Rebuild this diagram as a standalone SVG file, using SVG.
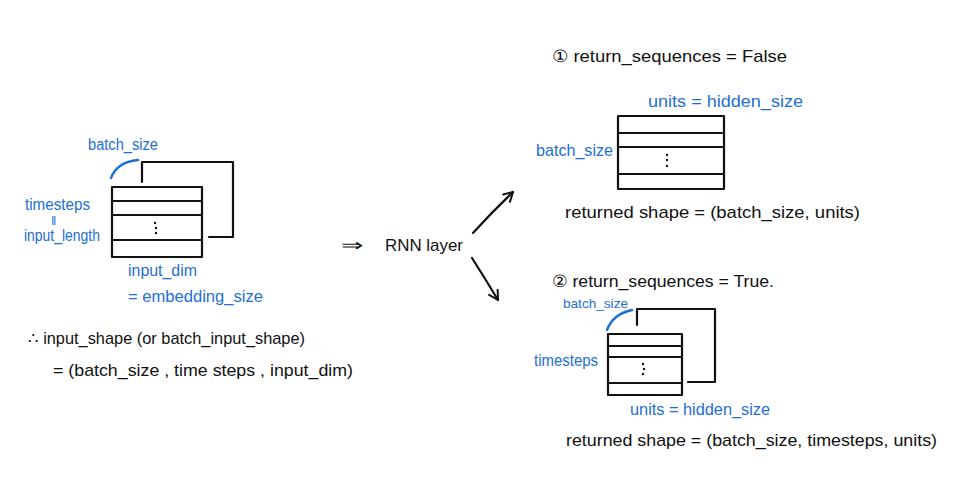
<svg xmlns="http://www.w3.org/2000/svg" width="960" height="480" viewBox="0 0 960 480">
<style>
text{font-family:"Liberation Sans",Arial,sans-serif;}
.k{fill:#111;font-size:17px;}
.b{fill:#1d6fd6;font-size:16px;}
.bs{fill:#1d6fd6;font-size:13px;}
.ln{fill:none;stroke:#111;stroke-width:2.2;stroke-linecap:round;stroke-linejoin:round;}
.arc{fill:none;stroke:#1d6fd6;stroke-width:2.4;stroke-linecap:round;}
.dot{fill:#111;}
</style>
<defs>
<marker id="ah" viewBox="0 0 12 12" refX="10" refY="6" markerWidth="12" markerHeight="12" markerUnits="userSpaceOnUse" orient="auto">
<path d="M1,1 L10,6 L1,11" fill="none" stroke="#111" stroke-width="2" stroke-linecap="round" stroke-linejoin="round"/>
</marker>
</defs>
<rect width="960" height="480" fill="#fff"/>

<g id="input-tensor">
<path class="ln" d="M142,182 L142,162 L233,162 L233,237 L209,237"/>
<rect class="ln" x="112" y="187" width="90" height="70"/>
<path class="ln" d="M112,201 L202,201 M112,215 L202,215 M112,240 L202,240"/>
<circle class="dot" cx="155" cy="223" r="1.2"/><circle class="dot" cx="156" cy="228" r="1.2"/><circle class="dot" cx="156" cy="233" r="1.2"/>
<path class="arc" d="M111,178 Q117,162 138,160"/>
<text class="b" x="88" y="150" textLength="70" lengthAdjust="spacingAndGlyphs">batch_size</text>
<text class="b" x="25" y="210" textLength="65" lengthAdjust="spacingAndGlyphs">timesteps</text>
<text class="bs" x="51" y="225" font-size="13">‖</text>
<text class="b" x="24" y="241" textLength="76" lengthAdjust="spacingAndGlyphs">input_length</text>
<text class="b" x="128" y="276" textLength="69" lengthAdjust="spacingAndGlyphs">input_dim</text>
<text class="b" x="128" y="302" textLength="135" lengthAdjust="spacingAndGlyphs">= embedding_size</text>
</g>

<g id="input-shape-note">
<text class="k" x="28" y="344" textLength="277" lengthAdjust="spacingAndGlyphs">∴ input_shape (or batch_input_shape)</text>
<text class="k" x="53" y="376" textLength="300" lengthAdjust="spacingAndGlyphs">= (batch_size , time steps , input_dim)</text>
</g>

<g id="rnn-layer">
<text class="k" x="341" y="251" font-size="24" textLength="22" lengthAdjust="spacingAndGlyphs">⇒</text>
<text class="k" x="385" y="251" textLength="78" lengthAdjust="spacingAndGlyphs">RNN layer</text>
</g>

<g id="connectors">
<path class="ln" d="M473,233 Q492,212 513,192" marker-end="url(#ah)"/>
<path class="ln" d="M472,258 Q486,280 498,300" marker-end="url(#ah)"/>
</g>

<g id="seq-false">
<text class="k" x="552" y="62" textLength="235" lengthAdjust="spacingAndGlyphs">① return_sequences = False</text>
<text class="b" x="648" y="107" textLength="155" lengthAdjust="spacingAndGlyphs">units = hidden_size</text>
<rect class="ln" x="618" y="116" width="106" height="73"/>
<path class="ln" d="M618,133 L722,133 M618,147 L724,147 M618,174 L724,174"/>
<circle class="dot" cx="667" cy="155" r="1.2"/><circle class="dot" cx="667" cy="160" r="1.2"/><circle class="dot" cx="667" cy="166" r="1.2"/>
<text class="b" x="536" y="156" textLength="77" lengthAdjust="spacingAndGlyphs">batch_size</text>
<text class="k" x="565" y="218" textLength="295" lengthAdjust="spacingAndGlyphs">returned shape = (batch_size, units)</text>
</g>

<g id="seq-true">
<text class="k" x="552" y="287" textLength="222" lengthAdjust="spacingAndGlyphs">② return_sequences = True.</text>
<text class="bs" x="563" y="308" textLength="65" lengthAdjust="spacingAndGlyphs">batch_size</text>
<path class="arc" d="M607,330 Q613,314 632,310"/>
<path class="ln" d="M637,325 L637,309 L715,309 L715,382 L688,382"/>
<rect class="ln" x="608" y="334" width="74" height="61"/>
<path class="ln" d="M608,346 L682,346 M608,357 L682,357 M608,383 L682,383"/>
<circle class="dot" cx="643" cy="364" r="1.2"/><circle class="dot" cx="644" cy="369" r="1.2"/><circle class="dot" cx="643" cy="374" r="1.2"/>
<text class="b" x="534" y="366" textLength="64" lengthAdjust="spacingAndGlyphs">timesteps</text>
<text class="b" x="630" y="415" textLength="140" lengthAdjust="spacingAndGlyphs">units = hidden_size</text>
<text class="k" x="566" y="446" textLength="371" lengthAdjust="spacingAndGlyphs">returned shape = (batch_size, timesteps, units)</text>
</g>
</svg>
